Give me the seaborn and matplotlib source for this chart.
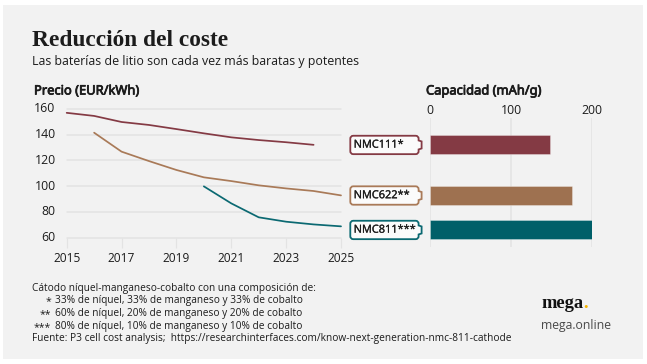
import matplotlib
matplotlib.use("Agg")
import matplotlib.pyplot as plt
import matplotlib.patheffects as pe
from matplotlib.patches import PathPatch, Rectangle
from matplotlib.path import Path
from matplotlib.transforms import ScaledTranslation
import numpy as np
import pandas as pd
import seaborn as sns

# ---- data ----
years_111 = [2015, 2016, 2017, 2018, 2019, 2020, 2021, 2022, 2023, 2024]
price_111 = [156.8, 154.4, 149.7, 147.4, 144.2, 140.9, 137.8, 135.7, 134.0, 132.0]
years_622 = [2016, 2017, 2018, 2019, 2020, 2021, 2022, 2023, 2024, 2025]
price_622 = [141.4, 126.7, 119.4, 112.5, 106.8, 103.9, 100.6, 98.2, 96.2, 92.8]
years_811 = [2020, 2021, 2022, 2023, 2024, 2025]
price_811 = [99.8, 86.6, 75.8, 72.4, 70.3, 68.8]
cathodes = ["NMC111", "NMC622", "NMC811"]
labels = ["NMC111*", "NMC622**", "NMC811***"]
capacity = [148, 175, 200]
label_price = [131.9, 92.7, 66.0]   # price level at which each battery label sits
price_ticks = [60, 80, 100, 120, 140, 160]
year_ticks = [2015, 2017, 2019, 2021, 2023, 2025]
cap_ticks = [0, 100, 200]
line_colors = {"NMC111": "#843a44", "NMC622": "#a97a58", "NMC811": "#0b6972"}
bar_colors = {"NMC111": "#843a44", "NMC622": "#9e7150", "NMC811": "#005f69"}
footnotes = [
    ("", "Cátodo níquel-manganeso-cobalto con una composición de:"),
    ("*", "33% de níquel, 33% de manganeso y 33% de cobalto"),
    ("**", "60% de níquel, 20% de manganeso y 20% de cobalto"),
    ("***", "80% de níquel, 10% de manganeso y 10% de cobalto"),
    ("", "Fuente: P3 cell cost analysis;  https://researchinterfaces.com/know-next-generation-nmc-811-cathode"),
]

lines = pd.concat([
    pd.DataFrame({"year": years_111, "price": price_111, "cathode": "NMC111"}),
    pd.DataFrame({"year": years_622, "price": price_622, "cathode": "NMC622"}),
    pd.DataFrame({"year": years_811, "price": price_811, "cathode": "NMC811"}),
])
bars = pd.DataFrame({"cathode": cathodes, "capacity": capacity, "pos": label_price})

sns.set_theme(style="white")
plt.rcParams["font.family"] = ["Open Sans", "DejaVu Sans"]
TXT = "#1c1c1c"
GRID = "#e3e3e3"
W, H = 647, 364

fig = plt.figure(figsize=(W / 100, H / 100), dpi=100, facecolor="white")

def px_axes(x0, y0, x1, y1, **kw):
    return fig.add_axes([x0 / W, 1 - y1 / H, (x1 - x0) / W, (y1 - y0) / H], **kw)

# pixel overlay for the panel and free text
bg = px_axes(0, 0, W, H)
bg.set_xlim(0, W); bg.set_ylim(H, 0); bg.axis("off")
bg.add_patch(Rectangle((3.3, 5), 640, 353.5, fc="#f2f2f2", ec="none"))

bg.text(32, 41, "Reducción del coste", family="Liberation Serif", weight="bold",
        fontsize=16.8, color=TXT, va="center", ha="left")
bg.text(32, 61.5, "Las baterías de litio son cada vez más baratas y potentes",
        fontsize=8.93, color=TXT, va="center", ha="left")
heavy = [pe.withStroke(linewidth=0.55, foreground=TXT)]
bg.text(34, 91, "Precio (EUR/kWh)", family="Noto Sans", fontsize=9.3,
        color=TXT, va="center", ha="left", path_effects=heavy)
bg.text(426, 91, "Capacidad (mAh/g)", family="Noto Sans", fontsize=9.3,
        color=TXT, va="center", ha="left", path_effects=heavy)

# line chart
ax = px_axes(66.7, 108.7, 341, 237.7, facecolor="none")
sns.lineplot(data=lines, x="year", y="price", hue="cathode", palette=line_colors,
             linewidth=1.25, legend=False, ax=ax, zorder=3, clip_on=False)
ax.set_xlim(2015, 2025); ax.set_ylim(60, 160)
ax.set_xticks(year_ticks); ax.set_yticks(price_ticks)
ax.set_xlabel(""); ax.set_ylabel("")
sns.despine(ax=ax, left=True, bottom=True, top=True, right=True)
ax.grid(axis="y", color=GRID, lw=1.1, zorder=0)
ax.set_axisbelow(True)
for g in ax.get_ygridlines():
    g.set_clip_on(False)
ax.tick_params(axis="x", length=7.5, width=0.9, color=GRID, labelsize=8.6, labelcolor=TXT, pad=3)
ax.tick_params(axis="y", length=0, labelsize=8.8, labelcolor=TXT, pad=8)
ax.xaxis.set_ticks_position("bottom")
for tl in ax.get_yticklabels():
    tl.set_transform(tl.get_transform() + ScaledTranslation(0, 1.5 / 100, fig.dpi_scale_trans))

# bar chart, on the same price scale as the line chart
p_per_px = 100 / (237.7 - 108.7)
ax2 = px_axes(430.3, 117.7, 592, 246.7, facecolor="none")
sns.barplot(data=bars, x="capacity", y="pos", hue="cathode", palette=bar_colors,
            orient="y", native_scale=True, dodge=False, legend=False, width=0.55,
            saturation=1, ax=ax2, zorder=3)
ax2.set_xlim(0, 200)
ax2.set_ylim(60 - (246.7 - 237.7) * p_per_px, 160 - (117.7 - 108.7) * p_per_px)
ax2.set_xticks(cap_ticks); ax2.set_yticks([])
ax2.set_xlabel(""); ax2.set_ylabel("")
sns.despine(ax=ax2, left=True, bottom=True, top=True, right=True)
ax2.grid(axis="x", color=GRID, lw=1.1, zorder=0)
ax2.set_axisbelow(True)
ax2.xaxis.set_ticks_position("top")
ax2.tick_params(axis="x", length=0, labelsize=8.8, labelcolor=TXT, pad=0.6)
for b in ax2.patches:
    b.set_edgecolor((1, 1, 1, 0.3)); b.set_linewidth(0.7)

# battery labels
over = px_axes(0, 0, W, H, facecolor="none")
over.set_xlim(0, W); over.set_ylim(H, 0); over.axis("off")

def battery_path(x0, x1, cy, h=18.4, r=3.0, nub_w=3.0, nub_h=9.0):
    top, bot = cy - h / 2, cy + h / 2
    M, L, Q, Z = Path.MOVETO, Path.LINETO, Path.CURVE3, Path.CLOSEPOLY
    v = [(x0 + r, top), (x1 - r, top), (x1, top), (x1, top + r),
         (x1, cy - nub_h / 2), (x1 + nub_w, cy - nub_h / 2 + 1), (x1 + nub_w, cy + nub_h / 2 - 1), (x1, cy + nub_h / 2),
         (x1, bot - r), (x1, bot), (x1 - r, bot),
         (x0 + r, bot), (x0, bot), (x0, bot - r),
         (x0, top + r), (x0, top), (x0 + r, top), (x0 + r, top)]
    c = [M, L, Q, Q, L, L, L, L, L, Q, Q, L, Q, Q, L, Q, Q, Z]
    return Path(v, c)

for name, lab, p in zip(cathodes, labels, label_price):
    cy = 108.7 + (160 - p) / p_per_px
    c = line_colors[name]
    over.add_patch(PathPatch(battery_path(350.3, 418.6, cy), fc="#fbfbfb", ec=c, lw=1.3))
    over.text(353.7, cy + 0.2, lab, fontsize=7.9, color=TXT, va="center", ha="left",
              path_effects=[pe.withStroke(linewidth=0.2, foreground=TXT)])

# footnotes
for i, (mark, line) in enumerate(footnotes):
    y = 288 + i * 12.75
    if mark:
        over.text(51, y + 1, mark, fontsize=7.6, color=TXT, va="center", ha="right")
        over.text(55, y, line, fontsize=7.25, color=TXT, va="center", ha="left")
    else:
        over.text(32, y, line, fontsize=7.25, color=TXT, va="center", ha="left")

# brand
over.text(541, 303, "mega", family="Liberation Serif", weight="bold", fontsize=13.3,
          color="#111111", va="center", ha="left")
over.text(583, 303, ".", family="Liberation Serif", weight="bold", fontsize=13.3,
          color="#f5b400", va="center", ha="left")
over.text(541, 325.5, "mega.online", fontsize=8.8, color="#4a4a4a", va="center", ha="left")

fig.savefig("out.png", dpi=100, facecolor="white")
